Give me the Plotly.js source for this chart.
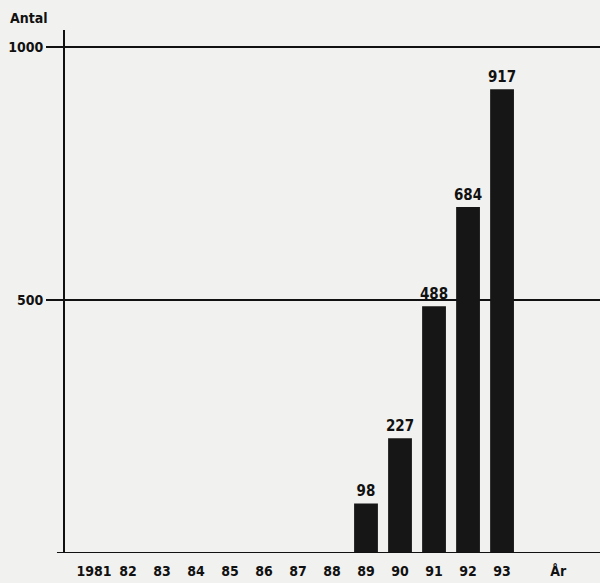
<!DOCTYPE html>
<html>
<head>
<meta charset="utf-8">
<script src="https://cdn.plot.ly/plotly-3.0.1.min.js"></script>
<style>html,body{margin:0;padding:0;background:#f1f1f0;}</style>
</head>
<body>
<div id="chart" style="width:600px;height:583px;"></div>
<script>
const years = ["1981","82","83","84","85","86","87","88","89","90","91","92","93"];
const counts = [null,null,null,null,null,null,null,null,98,227,488,684,917];
const yTicks = [500, 1000];
const yTickText = ["500", "1000"];
const xUnitLabel = "År";
const yTitle = "Antal";

const FONT = "'DejaVu Sans Condensed', 'Liberation Sans Narrow', 'Arial Narrow', sans-serif";
const xIdx = years.map((_, i) => i);

const trace = {
  type: 'bar',
  x: xIdx,
  y: counts,
  width: 0.7,
  marker: {color: '#161616', line: {width: 0}},
  text: counts.map(v => v == null ? '' : '<b>' + v + '</b>'),
  textposition: 'outside',
  constraintext: 'none',
  cliponaxis: false,
  textfont: {family: FONT, size: 15, color: '#111'},
  hoverinfo: 'skip'
};

const layout = {
  width: 600, height: 583,
  margin: {l: 65, r: 0, t: 30, b: 30},
  paper_bgcolor: '#f1f1f0',
  plot_bgcolor: '#f1f1f0',
  showlegend: false,
  font: {family: FONT, size: 14, color: '#111'},
  xaxis: {
    range: [-0.85, 14.88],
    tickvals: xIdx.concat([13.65]),
    ticktext: years.concat([xUnitLabel]).map(t => '<b>' + t + '</b>'),
    showgrid: false, zeroline: false, showline: false,
    ticks: '', tickfont: {family: FONT, size: 14, color: '#111'},
    ticklabelstandoff: 8
  },
  yaxis: {
    range: [0, 1034],
    tickvals: yTicks, ticktext: yTickText.map(t => '<b>' + t + '</b>'),
    showgrid: true, gridcolor: '#111', gridwidth: 1.5,
    zeroline: false,
    showline: true, linecolor: '#111', linewidth: 2,
    ticks: 'outside', ticklen: 17, tickwidth: 1.5, tickcolor: '#111',
    tickfont: {family: FONT, size: 14, color: '#111'}
  },
  shapes: [
    {type: 'line', xref: 'paper', yref: 'y', x0: -0.015, x1: 1, y0: 0, y1: 0,
     line: {color: '#111', width: 2}}
  ],
  annotations: [
    {text: '<b>' + yTitle + '</b>', xref: 'paper', yref: 'paper', x: -0.107, y: 1.023,
     xanchor: 'left', yanchor: 'middle', showarrow: false,
     font: {family: FONT, size: 14, color: '#111'}}
  ]
};

Plotly.newPlot('chart', [trace], layout, {displayModeBar: false, staticPlot: true});
</script>
</body>
</html>
